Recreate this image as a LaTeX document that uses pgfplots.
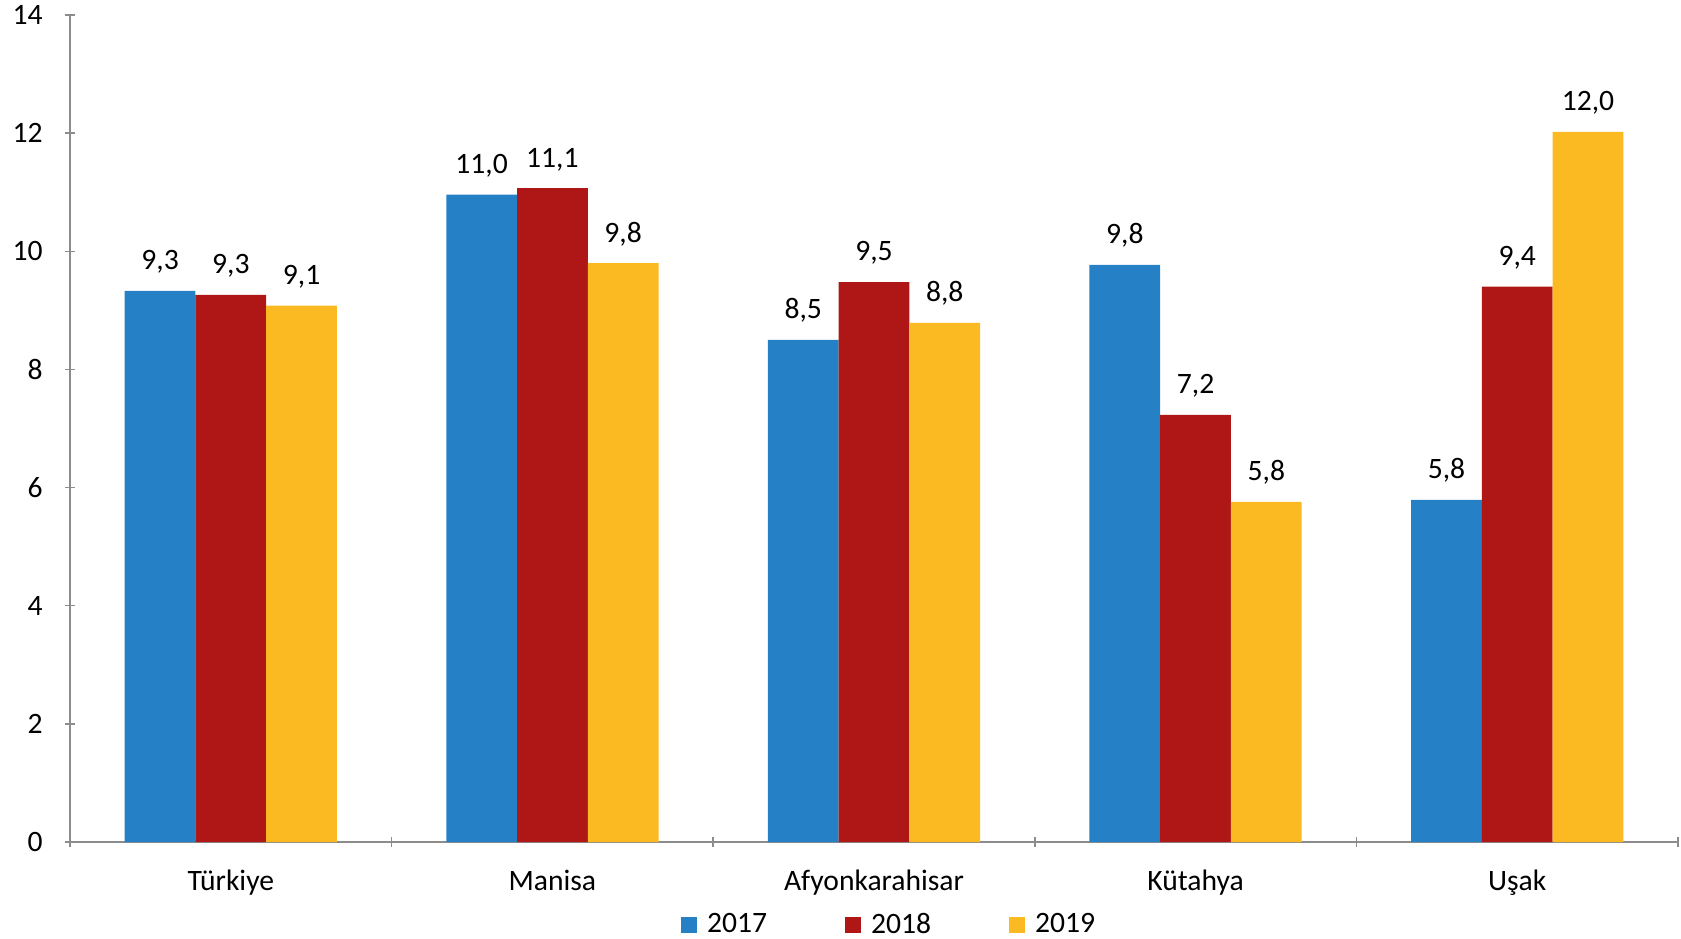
\documentclass[border=0pt]{standalone}
\usepackage{fontspec}
\setmainfont{Carlito}
\usepackage{pgfplots}
\pgfplotsset{compat=1.18}

\definecolor{c2017}{HTML}{2680C6}
\definecolor{c2018}{HTML}{AF1717}
\definecolor{c2019}{HTML}{FBBA22}
\definecolor{axgray}{HTML}{8C8C8C}

\begin{document}
\begin{tikzpicture}
\fontsize{14.8}{17}\selectfont
\begin{axis}[
    scale only axis,
    width=804pt, height=413.5pt,
    ybar, bar width=0.22,
    xmin=-0.5, xmax=4.5,
    ymin=0, ymax=14,
    ytick={0,2,...,14},
    xtick={0,...,4},
    xticklabels={Türkiye,Manisa,Afyonkarahisar,Kütahya,Uşak},
    minor xtick={-0.5,0.5,...,4.5},
    major x tick style={draw=none},
    tick align=outside,
    major tick length=5pt,
    minor tick length=5pt,
    tick style={axgray, line width=0.75pt},
    axis lines=left,
    axis line style={-, axgray, line width=0.75pt},
    /pgf/number format/assume math mode=true,
    every tick label/.style={font=\fontsize{14.8}{17}\selectfont},
    xticklabel style={yshift=-6.5pt},
    yticklabel style={xshift=-6pt},
    nodes near coords,
    nodes near coords style={font=\fontsize{14.8}{17}\selectfont, yshift=3.5pt,
        /pgf/number format/.cd, fixed, fixed zerofill, precision=1, use comma},
    legend style={at={(0.51,-0.1006)}, anchor=center, draw=none,
        legend columns=3, font=\fontsize{14.8}{17}\selectfont,
        /tikz/every even column/.append style={column sep=37pt}},
    legend image code/.code={\fill[#1] (0pt,-4pt) rectangle (8pt,4pt); \path (11pt,0pt);},
    clip=false,
]
\addplot[fill=c2017, draw=none, bar shift=-0.22] coordinates
    {(0,9.33) (1,10.96) (2,8.50) (3,9.77) (4,5.79)};
\addplot[fill=c2018, draw=none, bar shift=0] coordinates
    {(0,9.26) (1,11.07) (2,9.48) (3,7.23) (4,9.40)};
\addplot[fill=c2019, draw=none, bar shift=0.22] coordinates
    {(0,9.08) (1,9.80) (2,8.79) (3,5.76) (4,12.02)};
\legend{2017,2018,2019}
\end{axis}
\pgfresetboundingbox
\path (-35pt,-48pt) rectangle (805.5pt,421pt);
\end{tikzpicture}
\end{document}
